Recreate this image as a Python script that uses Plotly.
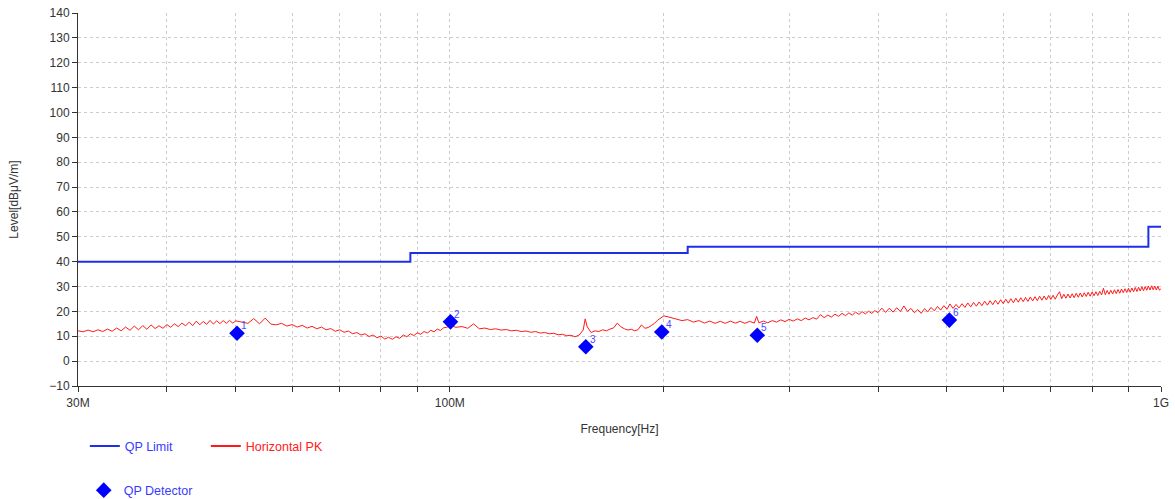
import math
import plotly.graph_objects as go

# ---------------- data ----------------
# QP limit (FCC class B, 3 m) - step line
limit_freq_mhz = [30, 88, 216, 960, 1000]
limit_level = [40, 43.5, 46, 54, 54]

# QP detector readings
qp_freq_mhz = [50.2, 100.2, 155.3, 198.6, 270.6, 504.0]
qp_level = [11.2, 15.8, 5.8, 11.7, 10.4, 16.5]
qp_labels = ["1", "2", "3", "4", "5", "6"]

# Horizontal peak scan
pk_freq_mhz = [
    30, 30.5, 31, 31.5, 32, 32.5, 33, 33.5, 34, 34.5, 35, 35.5, 36, 36.5, 37, 37.5,
    38, 38.5, 39, 39.5, 40, 40.5, 41, 41.5, 42, 42.5, 43, 43.5, 44, 44.5, 45, 45.5,
    46, 46.5, 47, 47.5, 48, 48.5, 49, 49.5, 50,
    51, 52, 53, 54, 55, 56, 57, 58, 59, 60, 61, 62, 63, 64, 65, 66, 67, 68, 69, 70,
    71, 72, 73, 74, 75, 76, 77, 78, 79, 80, 81, 82, 83, 84, 85, 86, 87, 88, 89, 90,
    91, 92, 93, 94, 95, 96, 97, 98, 99, 100,
    102, 104, 106, 108, 110, 112, 114, 116, 118, 120, 122, 124, 126, 128, 130, 132,
    134, 136, 138, 140, 142, 144, 146, 148, 150, 152, 154, 155, 156, 158, 160, 162,
    164, 166, 168, 170, 172, 174, 176, 178, 180, 182, 184, 186, 188, 190, 192, 194,
    196, 198, 200,
    204, 208, 212, 216, 220, 224, 228, 232, 236, 240, 244, 248, 252, 256, 260, 264,
    268, 270, 272, 276, 280, 284, 288, 292, 296, 300, 304, 308, 312, 316, 320, 324,
    328, 332, 336, 340, 344, 348, 352, 356, 360, 364, 368, 372, 376, 380, 384, 388,
    392, 396, 400,
    405, 410, 415, 420, 425, 430, 435, 440, 445, 450, 455, 460, 465, 470, 475, 480,
    485, 490, 495, 500, 505, 510, 515, 520, 525, 530, 535, 540, 545, 550, 555, 560,
    565, 570, 575, 580, 585, 590, 595, 600, 605, 610, 615, 620, 625, 630, 635, 640,
    645, 650, 655, 660, 665, 670, 675, 680, 685, 690, 695, 700, 705, 710, 715, 720,
    725, 730, 735, 740, 745, 750, 755, 760, 765, 770, 775, 780, 785, 790, 795, 800,
    805, 810, 815, 820, 825, 830, 835, 840, 845, 850, 855, 860, 865, 870, 875, 880,
    885, 890, 895, 900, 905, 910, 915, 920, 925, 930, 935, 940, 945, 950, 955, 960,
    965, 970, 975, 980, 985, 990, 995, 1000,
]
pk_level = [
    12.2, 11.8, 12.5, 11.8, 12.6, 11.9, 12.9, 12.0, 13.3, 12.2, 13.7, 12.4, 14.1, 12.6, 14.3, 12.8,
    14.6, 13.1, 14.2, 13.2, 14.7, 13.6, 15.0, 13.9, 15.3, 14.2, 15.7, 14.3, 16.1, 14.6, 16.0, 14.8,
    16.4, 14.9, 16.2, 15.1, 16.3, 15.2, 16.4, 15.3, 16.2,
    15.8, 15.2, 17.1, 15.0, 17.3, 14.9, 14.6, 15.2, 14.1, 14.7, 13.7, 14.4, 13.3, 14.0, 13.0, 13.7,
    12.6, 13.1, 12.0, 12.6, 11.6, 12.1, 11.0, 11.5, 10.5, 11.0, 9.9, 10.5, 9.4, 10.1, 8.9, 9.6,
    8.8, 9.8, 9.2, 10.5, 9.8, 11.0, 10.3, 11.4, 10.8, 11.9, 11.3, 12.4, 11.8, 12.9, 12.3, 13.4,
    13.6, 14.3,
    13.6, 13.9, 13.2, 15.0, 13.0, 13.3, 12.7, 13.0, 12.5, 12.7, 12.2, 12.4, 11.9, 12.1, 11.6, 11.9,
    11.3, 11.5, 11.0, 11.2, 10.6, 10.8, 10.2, 10.4, 9.8, 10.5, 12.5, 17.0, 13.8, 11.5, 12.2, 11.9,
    12.6, 12.2, 12.9, 13.4, 15.3, 13.8, 13.0, 12.5, 12.8, 12.2, 12.7, 14.6, 13.2, 13.5, 14.3, 15.2,
    16.5, 17.5, 18.2,
    17.6, 16.8, 16.3, 16.7, 15.7, 16.3, 15.3, 16.1, 15.2, 16.0, 15.2, 16.1, 15.3, 16.0, 15.2, 16.0,
    15.3, 18.0, 15.4, 16.1, 15.4, 16.3, 15.7, 16.6, 15.9, 16.8, 16.1, 17.0, 16.3, 17.3, 16.6, 17.5,
    16.9, 18.7, 17.5, 18.5, 17.7, 18.9, 18.0, 19.2, 18.3, 19.4, 18.5, 19.7, 18.8, 19.9, 19.0, 20.1,
    19.2, 20.3, 19.5,
    21.3, 19.6, 21.3, 19.7, 21.5, 19.9, 22.2, 20.0, 21.2, 19.5, 20.7, 19.2, 21.1, 19.8, 21.6, 20.2,
    22.0, 20.5, 22.3, 20.9, 23.0, 21.2, 22.8, 21.4, 23.1, 21.6, 23.4, 21.8, 23.6, 22.1, 23.8, 22.3,
    24.1, 22.5, 24.3, 22.7, 24.5, 22.9, 24.7, 23.1, 24.9, 23.3, 25.1, 23.5, 25.3, 23.7, 25.5, 23.9,
    25.6, 24.0, 25.8, 24.2, 25.9, 24.3, 26.1, 24.5, 26.2, 24.6, 26.4, 24.8, 26.5, 24.9, 26.6, 27.9,
    25.1, 26.9, 25.3, 27.0, 25.4, 27.1, 25.5, 27.3, 25.7, 27.4, 25.8, 27.5, 26.0, 27.7, 26.1, 27.8,
    26.3, 27.9, 26.4, 28.1, 26.6, 29.3, 26.7, 28.4, 26.9, 28.5, 27.0, 28.7, 27.2, 28.8, 27.3, 29.0,
    27.5, 29.1, 27.6, 29.3, 27.7, 29.4, 27.9, 29.6, 28.0, 29.7, 28.2, 29.9, 28.3, 30.0, 28.5, 30.2,
    28.6, 30.3, 28.7, 30.2, 28.6, 30.1, 28.5, 29.2,
]

x_tick_vals = [30, 40, 50, 60, 70, 80, 90, 100, 200, 300, 400, 500, 600, 700, 800, 900, 1000]
x_tick_text = ["30M", "", "", "", "", "", "", "100M", "", "", "", "", "", "", "", "", "1G"]

# ---------------- figure ----------------
FONT = "Liberation Sans, Arial, sans-serif"
BLUE_LINE = "#1f2fe6"
RED = "#ff1a1a"

fig = go.Figure()

fig.add_trace(go.Scatter(
    x=limit_freq_mhz, y=limit_level, mode="lines", line_shape="hv",
    line=dict(color=BLUE_LINE, width=2),
    name="<span style='color:#3a3aff'>QP Limit</span>",
    legend="legend",
))
fig.add_trace(go.Scatter(
    x=pk_freq_mhz, y=pk_level, mode="lines",
    line=dict(color=RED, width=1),
    name="Horizontal PK", showlegend=False,
))
# legend entry for the peak trace (drawn with a 2px swatch like the original)
fig.add_trace(go.Scatter(
    x=[None], y=[None], mode="lines",
    line=dict(color=RED, width=2),
    name="<span style='color:#ff2020'>Horizontal PK</span>",
    legend="legend", hoverinfo="skip",
))
fig.add_trace(go.Scatter(
    x=qp_freq_mhz, y=qp_level, mode="markers",
    marker=dict(symbol="diamond", size=12, color="#0000ff"),
    name="<span style='color:#3a3aff'>QP Detector</span>",
    legend="legend2",
))

for f, lv, lab in zip(qp_freq_mhz, qp_level, qp_labels):
    fig.add_annotation(
        x=math.log10(f), y=lv, text=lab, showarrow=False,
        xanchor="left", yanchor="bottom", xshift=2, yshift=0,
        font=dict(family=FONT, size=10, color="#4a4aff"),
    )

axis_common = dict(
    showgrid=True, gridcolor="#cccccc", griddash="dot", gridwidth=1,
    showline=True, linecolor="#333333", linewidth=1,
    ticks="outside", ticklen=5, tickcolor="#333333",
    tickfont=dict(family=FONT, size=12, color="#333333"),
    zeroline=False, mirror=False, automargin=False,
    ticklabeloverflow="allow",
)

fig.update_xaxes(
    type="log", range=[1.4771212547, 3.0],
    tickmode="array", tickvals=x_tick_vals, ticktext=x_tick_text,
    ticklabelstandoff=1,
    title=dict(text="Frequency[Hz]", font=dict(family=FONT, size=12, color="#333333"), standoff=15),
    **axis_common,
)
fig.update_yaxes(
    range=[-10, 140], tickmode="linear", tick0=-10, dtick=10,
    title=dict(text="Level[dBμV/m]", font=dict(family=FONT, size=12, color="#333333"), standoff=28),
    **axis_common,
)

fig.update_layout(
    width=1175, height=518,
    margin=dict(l=78, r=14, t=12.5, b=120.4),
    paper_bgcolor="white", plot_bgcolor="white",
    font=dict(family=FONT, size=12, color="#333333"),
    showlegend=True,
    legend=dict(
        orientation="h", x=0.0063, xanchor="left", y=-0.1618, yanchor="middle",
        entrywidth=76, entrywidthmode="pixels",
        font=dict(family=FONT, size=12.5), bgcolor="rgba(0,0,0,0)",
    ),
    legend2=dict(
        orientation="h", x=0.0053, xanchor="left", y=-0.2802, yanchor="middle",
        font=dict(family=FONT, size=12.5), bgcolor="rgba(0,0,0,0)",
    ),
)

# remove the default body margin / scrollbars so the figure fills the window exactly
fig.write_html(
    "out.html",
    config={"displayModeBar": False},
    post_script="document.body.style.margin='0';document.documentElement.style.overflow='hidden';",
)
